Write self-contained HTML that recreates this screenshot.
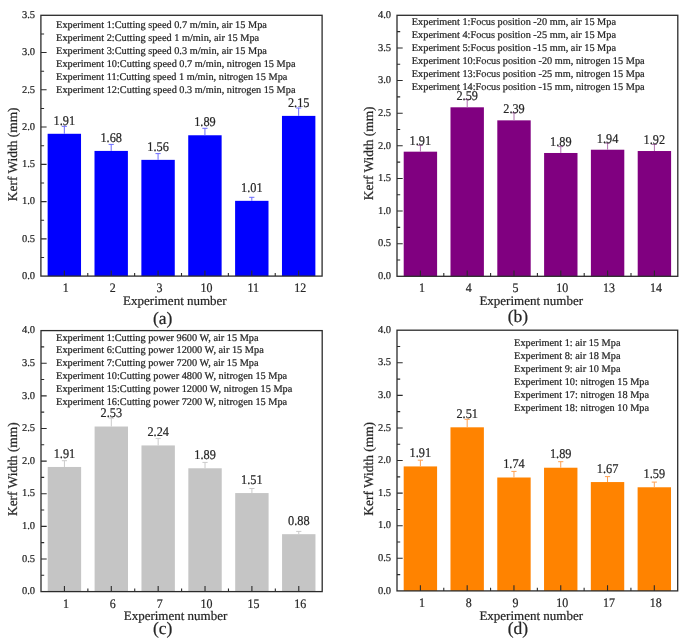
<!DOCTYPE html>
<html><head><meta charset="utf-8"><style>
html,body{margin:0;padding:0;background:#fff;}
svg{display:block;will-change:transform;filter:blur(0.35px);}
text{text-rendering:geometricPrecision;font-family:"Liberation Serif", serif;fill:#262626;stroke:#262626;stroke-width:0.22px;}
</style></head><body>
<svg width="685" height="638" viewBox="0 0 685 638">
<rect width="685" height="638" fill="#fff"/>
<g><rect x="47.63" y="133.78" width="33.40" height="142.32" fill="#0000FF"/><path d="M64.33 133.78V126.30M61.73 126.30H66.93" stroke="#6a6aff" stroke-width="1" fill="none"/><text transform="translate(64.33 124.70) scale(0.92 1)" font-size="13.4" text-anchor="middle">1.91</text><rect x="94.50" y="150.92" width="33.40" height="125.18" fill="#0000FF"/><path d="M111.20 150.92V144.40M108.60 144.40H113.80" stroke="#6a6aff" stroke-width="1" fill="none"/><text transform="translate(111.20 141.90) scale(0.92 1)" font-size="13.4" text-anchor="middle">1.68</text><rect x="141.37" y="159.86" width="33.40" height="116.24" fill="#0000FF"/><path d="M158.07 159.86V153.60M155.47 153.60H160.67" stroke="#6a6aff" stroke-width="1" fill="none"/><text transform="translate(158.07 151.10) scale(0.92 1)" font-size="13.4" text-anchor="middle">1.56</text><rect x="188.23" y="135.27" width="33.40" height="140.83" fill="#0000FF"/><path d="M204.93 135.27V128.30M202.33 128.30H207.53" stroke="#6a6aff" stroke-width="1" fill="none"/><text transform="translate(204.93 126.00) scale(0.92 1)" font-size="13.4" text-anchor="middle">1.89</text><rect x="235.10" y="200.84" width="33.40" height="75.26" fill="#0000FF"/><path d="M251.80 200.84V197.30M249.20 197.30H254.40" stroke="#6a6aff" stroke-width="1" fill="none"/><text transform="translate(251.80 192.10) scale(0.92 1)" font-size="13.4" text-anchor="middle">1.01</text><rect x="281.97" y="115.89" width="33.40" height="160.21" fill="#0000FF"/><path d="M298.67 115.89V108.00M296.07 108.00H301.27" stroke="#6a6aff" stroke-width="1" fill="none"/><text transform="translate(298.67 106.70) scale(0.92 1)" font-size="13.4" text-anchor="middle">2.15</text><text x="35.00" y="278.80" font-size="10.5" text-anchor="end">0.0</text><text x="35.00" y="241.54" font-size="10.5" text-anchor="end">0.5</text><text x="35.00" y="204.29" font-size="10.5" text-anchor="end">1.0</text><text x="35.00" y="167.03" font-size="10.5" text-anchor="end">1.5</text><text x="35.00" y="129.77" font-size="10.5" text-anchor="end">2.0</text><text x="35.00" y="92.51" font-size="10.5" text-anchor="end">2.5</text><text x="35.00" y="55.26" font-size="10.5" text-anchor="end">3.0</text><text x="35.00" y="18.00" font-size="10.5" text-anchor="end">3.5</text><text transform="translate(65.83 292.10) scale(0.92 1)" font-size="13.0" text-anchor="middle">1</text><text transform="translate(112.70 292.10) scale(0.92 1)" font-size="13.0" text-anchor="middle">2</text><text transform="translate(159.57 292.10) scale(0.92 1)" font-size="13.0" text-anchor="middle">3</text><text transform="translate(206.43 292.10) scale(0.92 1)" font-size="13.0" text-anchor="middle">10</text><text transform="translate(253.30 292.10) scale(0.92 1)" font-size="13.0" text-anchor="middle">11</text><text transform="translate(300.17 292.10) scale(0.92 1)" font-size="13.0" text-anchor="middle">12</text><path d="M40.90 257.47h3.2M40.90 238.84h5.7M40.90 220.21h3.2M40.90 201.59h5.7M40.90 182.96h3.2M40.90 164.33h5.7M40.90 145.70h3.2M40.90 127.07h5.7M40.90 108.44h3.2M40.90 89.81h5.7M40.90 71.19h3.2M40.90 52.56h5.7M40.90 33.93h3.2M64.33 276.10v-5.7M111.20 276.10v-5.7M87.77 276.10v-3.2M158.07 276.10v-5.7M134.63 276.10v-3.2M204.93 276.10v-5.7M181.50 276.10v-3.2M251.80 276.10v-5.7M228.37 276.10v-3.2M298.67 276.10v-5.7M275.23 276.10v-3.2" stroke="#2b2b2b" stroke-width="1.1" fill="none"/><rect x="40.90" y="15.30" width="281.20" height="260.80" fill="none" stroke="#2b2b2b" stroke-width="1.3"/><text x="56.10" y="28.10" font-size="10.3">Experiment 1:Cutting speed 0.7 m/min, air 15 Mpa</text><text x="56.10" y="41.12" font-size="10.3">Experiment 2:Cutting speed 1 m/min, air 15 Mpa</text><text x="56.10" y="54.14" font-size="10.3">Experiment 3:Cutting speed 0.3 m/min, air 15 Mpa</text><text x="56.10" y="67.16" font-size="10.3">Experiment 10:Cutting speed 0.7 m/min, nitrogen 15 Mpa</text><text x="56.10" y="80.18" font-size="10.3">Experiment 11:Cutting speed 1 m/min, nitrogen 15 Mpa</text><text x="56.10" y="93.20" font-size="10.3">Experiment 12:Cutting speed 0.3 m/min, nitrogen 15 Mpa</text><text transform="translate(16.50 154.30) rotate(-90)" font-size="13.4" text-anchor="middle">Kerf Width (mm)</text><text x="174.90" y="304.80" font-size="13" text-anchor="middle">Experiment number</text><text x="162.60" y="323.80" font-size="17.5" text-anchor="middle">(a)</text></g>
<g><rect x="403.70" y="151.67" width="33.40" height="124.63" fill="#800080"/><path d="M420.40 151.67V145.30M417.80 145.30H423.00" stroke="#b070b0" stroke-width="1" fill="none"/><text transform="translate(420.40 144.80) scale(0.92 1)" font-size="13.4" text-anchor="middle">1.91</text><rect x="450.50" y="107.30" width="33.40" height="169.00" fill="#800080"/><path d="M467.20 107.30V99.30M464.60 99.30H469.80" stroke="#b070b0" stroke-width="1" fill="none"/><text transform="translate(467.20 100.20) scale(0.92 1)" font-size="13.4" text-anchor="middle">2.59</text><rect x="497.30" y="120.35" width="33.40" height="155.95" fill="#800080"/><path d="M514.00 120.35V112.80M511.40 112.80H516.60" stroke="#b070b0" stroke-width="1" fill="none"/><text transform="translate(514.00 113.30) scale(0.92 1)" font-size="13.4" text-anchor="middle">2.39</text><rect x="544.10" y="152.98" width="33.40" height="123.32" fill="#800080"/><path d="M560.80 152.98V146.60M558.20 146.60H563.40" stroke="#b070b0" stroke-width="1" fill="none"/><text transform="translate(560.80 145.80) scale(0.92 1)" font-size="13.4" text-anchor="middle">1.89</text><rect x="590.90" y="149.72" width="33.40" height="126.58" fill="#800080"/><path d="M607.60 149.72V143.10M605.00 143.10H610.20" stroke="#b070b0" stroke-width="1" fill="none"/><text transform="translate(607.60 142.50) scale(0.92 1)" font-size="13.4" text-anchor="middle">1.94</text><rect x="637.70" y="151.02" width="33.40" height="125.28" fill="#800080"/><path d="M654.40 151.02V144.40M651.80 144.40H657.00" stroke="#b070b0" stroke-width="1" fill="none"/><text transform="translate(654.40 144.20) scale(0.92 1)" font-size="13.4" text-anchor="middle">1.92</text><text x="391.00" y="279.00" font-size="10.5" text-anchor="end">0.0</text><text x="391.00" y="246.38" font-size="10.5" text-anchor="end">0.5</text><text x="391.00" y="213.75" font-size="10.5" text-anchor="end">1.0</text><text x="391.00" y="181.12" font-size="10.5" text-anchor="end">1.5</text><text x="391.00" y="148.50" font-size="10.5" text-anchor="end">2.0</text><text x="391.00" y="115.88" font-size="10.5" text-anchor="end">2.5</text><text x="391.00" y="83.25" font-size="10.5" text-anchor="end">3.0</text><text x="391.00" y="50.63" font-size="10.5" text-anchor="end">3.5</text><text x="391.00" y="18.00" font-size="10.5" text-anchor="end">4.0</text><text transform="translate(421.90 292.30) scale(0.92 1)" font-size="13.0" text-anchor="middle">1</text><text transform="translate(468.70 292.30) scale(0.92 1)" font-size="13.0" text-anchor="middle">4</text><text transform="translate(515.50 292.30) scale(0.92 1)" font-size="13.0" text-anchor="middle">5</text><text transform="translate(562.30 292.30) scale(0.92 1)" font-size="13.0" text-anchor="middle">10</text><text transform="translate(609.10 292.30) scale(0.92 1)" font-size="13.0" text-anchor="middle">13</text><text transform="translate(655.90 292.30) scale(0.92 1)" font-size="13.0" text-anchor="middle">14</text><path d="M397.00 259.99h3.2M397.00 243.68h5.7M397.00 227.36h3.2M397.00 211.05h5.7M397.00 194.74h3.2M397.00 178.43h5.7M397.00 162.11h3.2M397.00 145.80h5.7M397.00 129.49h3.2M397.00 113.18h5.7M397.00 96.86h3.2M397.00 80.55h5.7M397.00 64.24h3.2M397.00 47.93h5.7M397.00 31.61h3.2M420.40 276.30v-5.7M467.20 276.30v-5.7M443.80 276.30v-3.2M514.00 276.30v-5.7M490.60 276.30v-3.2M560.80 276.30v-5.7M537.40 276.30v-3.2M607.60 276.30v-5.7M584.20 276.30v-3.2M654.40 276.30v-5.7M631.00 276.30v-3.2" stroke="#2b2b2b" stroke-width="1.1" fill="none"/><rect x="397.00" y="15.30" width="280.80" height="261.00" fill="none" stroke="#2b2b2b" stroke-width="1.3"/><text x="411.80" y="24.50" font-size="10.3">Experiment 1:Focus position -20 mm, air 15 Mpa</text><text x="411.80" y="37.60" font-size="10.3">Experiment 4:Focus position -25 mm, air 15 Mpa</text><text x="411.80" y="50.70" font-size="10.3">Experiment 5:Focus position -15 mm, air 15 Mpa</text><text x="411.80" y="63.80" font-size="10.3">Experiment 10:Focus position -20 mm, nitrogen 15 Mpa</text><text x="411.80" y="76.90" font-size="10.3">Experiment 13:Focus position -25 mm, nitrogen 15 Mpa</text><text x="411.80" y="90.00" font-size="10.3">Experiment 14:Focus position -15 mm, nitrogen 15 Mpa</text><text transform="translate(373.00 153.30) rotate(-90)" font-size="13.4" text-anchor="middle">Kerf Width (mm)</text><text x="531.20" y="305.00" font-size="13" text-anchor="middle">Experiment number</text><text x="518.00" y="321.60" font-size="17.5" text-anchor="middle">(b)</text></g>
<g><rect x="47.73" y="466.97" width="33.40" height="124.63" fill="#C5C5C5"/><path d="M64.43 466.97V460.70M61.83 460.70H67.03" stroke="#cacaca" stroke-width="1" fill="none"/><text transform="translate(64.43 457.80) scale(0.92 1)" font-size="13.4" text-anchor="middle">1.91</text><rect x="94.60" y="426.52" width="33.40" height="165.08" fill="#C5C5C5"/><path d="M111.30 426.52V418.10M108.70 418.10H113.90" stroke="#cacaca" stroke-width="1" fill="none"/><text transform="translate(111.30 417.10) scale(0.92 1)" font-size="13.4" text-anchor="middle">2.53</text><rect x="141.47" y="445.44" width="33.40" height="146.16" fill="#C5C5C5"/><path d="M158.17 445.44V438.40M155.57 438.40H160.77" stroke="#cacaca" stroke-width="1" fill="none"/><text transform="translate(158.17 436.30) scale(0.92 1)" font-size="13.4" text-anchor="middle">2.24</text><rect x="188.33" y="468.28" width="33.40" height="123.32" fill="#C5C5C5"/><path d="M205.03 468.28V462.40M202.43 462.40H207.63" stroke="#cacaca" stroke-width="1" fill="none"/><text transform="translate(205.03 458.80) scale(0.92 1)" font-size="13.4" text-anchor="middle">1.89</text><rect x="235.20" y="493.07" width="33.40" height="98.53" fill="#C5C5C5"/><path d="M251.90 493.07V488.50M249.30 488.50H254.50" stroke="#cacaca" stroke-width="1" fill="none"/><text transform="translate(251.90 483.80) scale(0.92 1)" font-size="13.4" text-anchor="middle">1.51</text><rect x="282.07" y="534.18" width="33.40" height="57.42" fill="#C5C5C5"/><path d="M298.77 534.18V531.40M296.17 531.40H301.37" stroke="#cacaca" stroke-width="1" fill="none"/><text transform="translate(298.77 524.90) scale(0.92 1)" font-size="13.4" text-anchor="middle">0.88</text><text x="35.00" y="594.30" font-size="10.5" text-anchor="end">0.0</text><text x="35.00" y="561.68" font-size="10.5" text-anchor="end">0.5</text><text x="35.00" y="529.05" font-size="10.5" text-anchor="end">1.0</text><text x="35.00" y="496.43" font-size="10.5" text-anchor="end">1.5</text><text x="35.00" y="463.80" font-size="10.5" text-anchor="end">2.0</text><text x="35.00" y="431.18" font-size="10.5" text-anchor="end">2.5</text><text x="35.00" y="398.55" font-size="10.5" text-anchor="end">3.0</text><text x="35.00" y="365.93" font-size="10.5" text-anchor="end">3.5</text><text x="35.00" y="333.30" font-size="10.5" text-anchor="end">4.0</text><text transform="translate(65.93 607.60) scale(0.92 1)" font-size="13.0" text-anchor="middle">1</text><text transform="translate(112.80 607.60) scale(0.92 1)" font-size="13.0" text-anchor="middle">6</text><text transform="translate(159.67 607.60) scale(0.92 1)" font-size="13.0" text-anchor="middle">7</text><text transform="translate(206.53 607.60) scale(0.92 1)" font-size="13.0" text-anchor="middle">10</text><text transform="translate(253.40 607.60) scale(0.92 1)" font-size="13.0" text-anchor="middle">15</text><text transform="translate(300.27 607.60) scale(0.92 1)" font-size="13.0" text-anchor="middle">16</text><path d="M41.00 575.29h3.2M41.00 558.98h5.7M41.00 542.66h3.2M41.00 526.35h5.7M41.00 510.04h3.2M41.00 493.73h5.7M41.00 477.41h3.2M41.00 461.10h5.7M41.00 444.79h3.2M41.00 428.48h5.7M41.00 412.16h3.2M41.00 395.85h5.7M41.00 379.54h3.2M41.00 363.23h5.7M41.00 346.91h3.2M64.43 591.60v-5.7M111.30 591.60v-5.7M87.87 591.60v-3.2M158.17 591.60v-5.7M134.73 591.60v-3.2M205.03 591.60v-5.7M181.60 591.60v-3.2M251.90 591.60v-5.7M228.47 591.60v-3.2M298.77 591.60v-5.7M275.33 591.60v-3.2" stroke="#2b2b2b" stroke-width="1.1" fill="none"/><rect x="41.00" y="330.60" width="281.20" height="261.00" fill="none" stroke="#2b2b2b" stroke-width="1.3"/><text x="56.10" y="340.50" font-size="10.3">Experiment 1:Cutting power 9600 W, air 15 Mpa</text><text x="56.10" y="353.40" font-size="10.3">Experiment 6:Cutting power 12000 W, air 15 Mpa</text><text x="56.10" y="366.30" font-size="10.3">Experiment 7:Cutting power 7200 W, air 15 Mpa</text><text x="56.10" y="379.20" font-size="10.3">Experiment 10:Cutting power 4800 W, nitrogen 15 Mpa</text><text x="56.10" y="392.10" font-size="10.3">Experiment 15:Cutting power 12000 W, nitrogen 15 Mpa</text><text x="56.10" y="405.00" font-size="10.3">Experiment 16:Cutting power 7200 W, nitrogen 15 Mpa</text><text transform="translate(16.50 469.20) rotate(-90)" font-size="13.4" text-anchor="middle">Kerf Width (mm)</text><text x="175.50" y="619.90" font-size="13" text-anchor="middle">Experiment number</text><text x="162.60" y="633.80" font-size="17.5" text-anchor="middle">(c)</text></g>
<g><rect x="403.69" y="466.42" width="33.40" height="124.48" fill="#FF8300"/><path d="M420.39 466.42V460.20M417.79 460.20H422.99" stroke="#ffa050" stroke-width="1" fill="none"/><text transform="translate(420.39 457.20) scale(0.92 1)" font-size="13.4" text-anchor="middle">1.91</text><rect x="450.48" y="427.31" width="33.40" height="163.59" fill="#FF8300"/><path d="M467.18 427.31V419.30M464.57 419.30H469.78" stroke="#ffa050" stroke-width="1" fill="none"/><text transform="translate(467.18 418.00) scale(0.92 1)" font-size="13.4" text-anchor="middle">2.51</text><rect x="497.26" y="477.50" width="33.40" height="113.40" fill="#FF8300"/><path d="M513.96 477.50V471.40M511.36 471.40H516.56" stroke="#ffa050" stroke-width="1" fill="none"/><text transform="translate(513.96 467.70) scale(0.92 1)" font-size="13.4" text-anchor="middle">1.74</text><rect x="544.04" y="467.72" width="33.40" height="123.18" fill="#FF8300"/><path d="M560.74 467.72V461.70M558.14 461.70H563.34" stroke="#ffa050" stroke-width="1" fill="none"/><text transform="translate(560.74 457.80) scale(0.92 1)" font-size="13.4" text-anchor="middle">1.89</text><rect x="590.83" y="482.06" width="33.40" height="108.84" fill="#FF8300"/><path d="M607.53 482.06V476.60M604.93 476.60H610.13" stroke="#ffa050" stroke-width="1" fill="none"/><text transform="translate(607.53 472.50) scale(0.92 1)" font-size="13.4" text-anchor="middle">1.67</text><rect x="637.61" y="487.27" width="33.40" height="103.63" fill="#FF8300"/><path d="M654.31 487.27V482.10M651.71 482.10H656.91" stroke="#ffa050" stroke-width="1" fill="none"/><text transform="translate(654.31 478.00) scale(0.92 1)" font-size="13.4" text-anchor="middle">1.59</text><text x="391.00" y="593.60" font-size="10.5" text-anchor="end">0.0</text><text x="391.00" y="561.01" font-size="10.5" text-anchor="end">0.5</text><text x="391.00" y="528.43" font-size="10.5" text-anchor="end">1.0</text><text x="391.00" y="495.84" font-size="10.5" text-anchor="end">1.5</text><text x="391.00" y="463.25" font-size="10.5" text-anchor="end">2.0</text><text x="391.00" y="430.66" font-size="10.5" text-anchor="end">2.5</text><text x="391.00" y="398.07" font-size="10.5" text-anchor="end">3.0</text><text x="391.00" y="365.49" font-size="10.5" text-anchor="end">3.5</text><text x="391.00" y="332.90" font-size="10.5" text-anchor="end">4.0</text><text transform="translate(421.89 606.90) scale(0.92 1)" font-size="13.0" text-anchor="middle">1</text><text transform="translate(468.68 606.90) scale(0.92 1)" font-size="13.0" text-anchor="middle">8</text><text transform="translate(515.46 606.90) scale(0.92 1)" font-size="13.0" text-anchor="middle">9</text><text transform="translate(562.24 606.90) scale(0.92 1)" font-size="13.0" text-anchor="middle">10</text><text transform="translate(609.03 606.90) scale(0.92 1)" font-size="13.0" text-anchor="middle">17</text><text transform="translate(655.81 606.90) scale(0.92 1)" font-size="13.0" text-anchor="middle">18</text><path d="M397.00 574.61h3.2M397.00 558.31h5.7M397.00 542.02h3.2M397.00 525.73h5.7M397.00 509.43h3.2M397.00 493.14h5.7M397.00 476.84h3.2M397.00 460.55h5.7M397.00 444.26h3.2M397.00 427.96h5.7M397.00 411.67h3.2M397.00 395.38h5.7M397.00 379.08h3.2M397.00 362.79h5.7M397.00 346.49h3.2M420.39 590.90v-5.7M467.18 590.90v-5.7M443.78 590.90v-3.2M513.96 590.90v-5.7M490.57 590.90v-3.2M560.74 590.90v-5.7M537.35 590.90v-3.2M607.53 590.90v-5.7M584.13 590.90v-3.2M654.31 590.90v-5.7M630.92 590.90v-3.2" stroke="#2b2b2b" stroke-width="1.1" fill="none"/><rect x="397.00" y="330.20" width="280.70" height="260.70" fill="none" stroke="#2b2b2b" stroke-width="1.3"/><text x="514.10" y="345.60" font-size="10.3">Experiment 1: air 15 Mpa</text><text x="514.10" y="358.65" font-size="10.3">Experiment 8: air 18 Mpa</text><text x="514.10" y="371.70" font-size="10.3">Experiment 9: air 10 Mpa</text><text x="514.10" y="384.75" font-size="10.3">Experiment 10: nitrogen 15 Mpa</text><text x="514.10" y="397.80" font-size="10.3">Experiment 17: nitrogen 18 Mpa</text><text x="514.10" y="410.85" font-size="10.3">Experiment 18: nitrogen 10 Mpa</text><text transform="translate(373.00 468.80) rotate(-90)" font-size="13.4" text-anchor="middle">Kerf Width (mm)</text><text x="531.20" y="619.80" font-size="13" text-anchor="middle">Experiment number</text><text x="518.00" y="633.50" font-size="17.5" text-anchor="middle">(d)</text></g>
</svg>
</body></html>
